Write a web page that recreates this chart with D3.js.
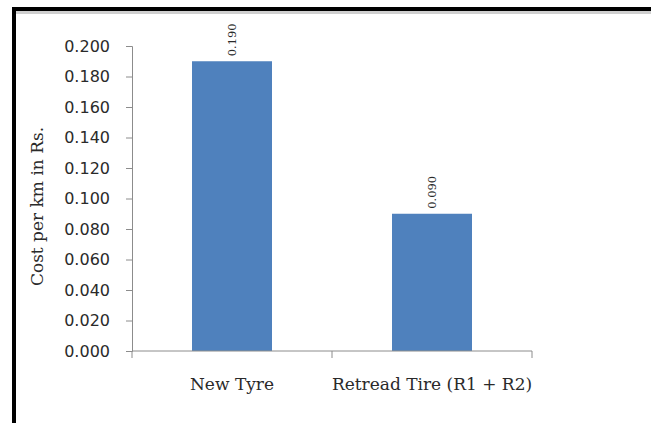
<!DOCTYPE html>
<html>
<head>
<meta charset="utf-8">
<script src="https://cdn.jsdelivr.net/npm/d3@7"></script>
<style>
  html, body { margin: 0; padding: 0; background: #fff; }
  svg { display: block; }
</style>
</head>
<body>
<svg id="chart" width="651" height="423"></svg>
<script>
// Cost per km for each tyre option
const categories = ["New Tyre", "Retread Tire (R1 + R2)"];
const costPerKm = [0.190, 0.090];
const yTickValues = [0, 0.02, 0.04, 0.06, 0.08, 0.10, 0.12, 0.14, 0.16, 0.18, 0.20];
const yTitle = "Cost per km in Rs.";

const svg = d3.select("#chart");

// Frame: heavy line along the top and left edges
svg.append("rect").attr("x", 12).attr("y", 11).attr("width", 639).attr("height", 3).attr("fill", "#cfcfcf");
svg.append("rect").attr("x", 12).attr("y", 7).attr("width", 639).attr("height", 4).attr("fill", "#000");
svg.append("rect").attr("x", 12).attr("y", 7).attr("width", 4).attr("height", 416).attr("fill", "#000");

const plot = { left: 132, right: 532, top: 46, bottom: 351 };

const x = d3.scaleBand()
  .domain(categories)
  .range([plot.left, plot.right])
  .paddingInner(0.6)
  .paddingOuter(0.3);

const y = d3.scaleLinear()
  .domain([0, 0.2])
  .range([plot.bottom, plot.top]);

const axisColor = "#8c8c8c";

// Y axis
const yAxis = svg.append("g")
  .attr("transform", `translate(${plot.left},0)`)
  .call(d3.axisLeft(y).tickValues(yTickValues).tickFormat(d3.format(".3f")).tickSizeOuter(0).tickSize(6).tickPadding(16));
yAxis.select(".domain").attr("stroke", axisColor);
yAxis.selectAll(".tick line").attr("stroke", axisColor);
yAxis.selectAll(".tick text")
  .attr("fill", "#2a2a2a")
  .style("font-family", "'DejaVu Sans', sans-serif")
  .style("font-size", "16px");

// Bars
svg.append("g").selectAll("rect")
  .data(categories)
  .join("rect")
  .attr("x", d => x(d))
  .attr("y", (d, i) => y(costPerKm[i]))
  .attr("width", x.bandwidth())
  .attr("height", (d, i) => plot.bottom - y(costPerKm[i]))
  .attr("fill", "#4f81bd");

// X axis with boundary ticks between categories
const step = x.step();
const boundaries = d3.range(categories.length + 1).map(i => plot.left + i * (plot.right - plot.left) / categories.length);
const xAxis = svg.append("g").attr("transform", `translate(0,${plot.bottom})`);
xAxis.append("line")
  .attr("x1", plot.left).attr("x2", plot.right)
  .attr("y1", 0).attr("y2", 0)
  .attr("stroke", axisColor);
xAxis.selectAll("line.bound")
  .data(boundaries)
  .join("line")
  .attr("class", "bound")
  .attr("x1", d => d).attr("x2", d => d)
  .attr("y1", 0).attr("y2", 7)
  .attr("stroke", axisColor);
xAxis.selectAll("text")
  .data(categories)
  .join("text")
  .attr("x", d => x(d) + x.bandwidth() / 2)
  .attr("y", 39)
  .attr("text-anchor", "middle")
  .attr("fill", "#2a2a2a")
  .style("font-family", "'DejaVu Serif', serif")
  .style("font-size", "17px")
  .text(d => d);

// Value labels above bars, rotated
svg.append("g").selectAll("text")
  .data(categories)
  .join("text")
  .attr("transform", (d, i) => `translate(${x(d) + x.bandwidth() / 2 + 4},${y(costPerKm[i]) - 5}) rotate(-90)`)
  .attr("text-anchor", "start")
  .attr("fill", "#2a2a2a")
  .style("font-family", "'DejaVu Serif', serif")
  .style("font-size", "11.5px")
  .text((d, i) => d3.format(".3f")(costPerKm[i]));

// Y axis title
svg.append("text")
  .attr("transform", `translate(43,${(plot.top + plot.bottom) / 2 + 8}) rotate(-90)`)
  .attr("text-anchor", "middle")
  .attr("fill", "#2a2a2a")
  .style("font-family", "'DejaVu Serif', serif")
  .style("font-size", "17px")
  .text(yTitle);
</script>
</body>
</html>
